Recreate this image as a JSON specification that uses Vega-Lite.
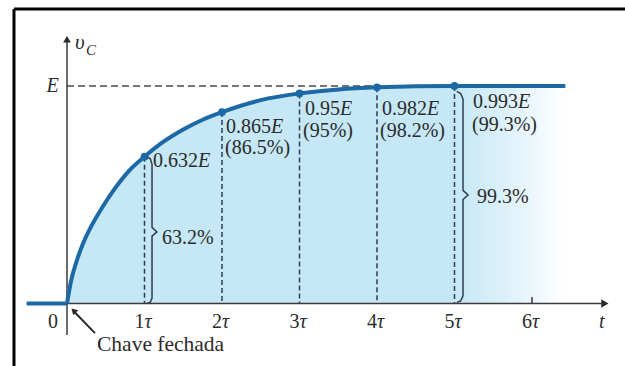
{
  "$schema": "https://vega.github.io/schema/vega-lite/v6.json",
  "width": 611,
  "height": 357,
  "autosize": {"type": "none"},
  "padding": {"left": 14, "top": 9, "right": 0, "bottom": 0},
  "background": "white",
  "config": {"view": {"stroke": null}},
  "encoding": {
    "x": {"field": "t", "type": "quantitative", "scale": {"domain": [-0.6839, 7.2], "nice": false, "zero": false}, "axis": null},
    "y": {"field": "v", "type": "quantitative", "scale": {"domain": [-0.2874, 1.354], "nice": false, "zero": false}, "axis": null}
  },
  "datasets": {
    "curve": [
      {"t": 0, "v": 0}, {"t": 0.05, "v": 0.1}, {"t": 0.12, "v": 0.19}, {"t": 0.206, "v": 0.275},
      {"t": 0.32, "v": 0.36}, {"t": 0.452, "v": 0.44}, {"t": 0.6, "v": 0.52}, {"t": 0.8, "v": 0.61},
      {"t": 1, "v": 0.675}, {"t": 1.25, "v": 0.745}, {"t": 1.5, "v": 0.8}, {"t": 1.75, "v": 0.845},
      {"t": 2, "v": 0.88}, {"t": 2.5, "v": 0.935}, {"t": 3, "v": 0.966}, {"t": 3.5, "v": 0.984},
      {"t": 4, "v": 0.994}, {"t": 4.5, "v": 0.999}, {"t": 5, "v": 1.0}, {"t": 6.43, "v": 1.0}
    ],
    "pts": [
      {"t": 1, "v": 0.675}, {"t": 2, "v": 0.88}, {"t": 3, "v": 0.966}, {"t": 4, "v": 0.994}, {"t": 5, "v": 1.0}
    ],
    "ticks": [
      {"n": "1", "tau": "τ", "t": 1, "v": -0.085},
      {"n": "2", "tau": "τ", "t": 2, "v": -0.085},
      {"n": "3", "tau": "τ", "t": 3, "v": -0.085},
      {"n": "4", "tau": "τ", "t": 4, "v": -0.085},
      {"n": "5", "tau": "τ", "t": 5, "v": -0.085},
      {"n": "6", "tau": "τ", "t": 6, "v": -0.085}
    ],
    "braces": [
      {"b": 1, "k": 1, "t": 1.03, "v": 0.675}, {"b": 1, "k": 2, "t": 1.075, "v": 0.665}, {"b": 1, "k": 3, "t": 1.097, "v": 0.64},
      {"b": 1, "k": 4, "t": 1.097, "v": 0.35}, {"b": 1, "k": 5, "t": 1.16, "v": 0.329}, {"b": 1, "k": 6, "t": 1.097, "v": 0.31},
      {"b": 1, "k": 7, "t": 1.097, "v": 0.025}, {"b": 1, "k": 8, "t": 1.075, "v": 0.006}, {"b": 1, "k": 9, "t": 1.03, "v": 0.0},
      {"b": 2, "k": 1, "t": 5.03, "v": 0.975}, {"b": 2, "k": 2, "t": 5.08, "v": 0.965}, {"b": 2, "k": 3, "t": 5.11, "v": 0.94},
      {"b": 2, "k": 4, "t": 5.11, "v": 0.52}, {"b": 2, "k": 5, "t": 5.175, "v": 0.499}, {"b": 2, "k": 6, "t": 5.11, "v": 0.478},
      {"b": 2, "k": 7, "t": 5.11, "v": 0.035}, {"b": 2, "k": 8, "t": 5.08, "v": 0.012}, {"b": 2, "k": 9, "t": 5.03, "v": 0.005}
    ]
  },
  "layer": [
    {
      "data": {"name": "curve"},
      "mark": {"type": "area", "interpolate": "monotone", "color": {"gradient": "linear", "x1": 0, "y1": 0, "x2": 1, "y2": 0, "stops": [{"offset": 0, "color": "#c5e7f6"}, {"offset": 0.78, "color": "#c5e7f6"}, {"offset": 0.9, "color": "#e2f3fb"}, {"offset": 1, "color": "#ffffff"}]}},
      "encoding": {"y2": {"datum": 0}}
    },
    {
      "data": {"name": "pts"},
      "mark": {"type": "rule", "color": "#2c3e50", "strokeWidth": 1.5, "strokeDash": [5, 3]},
      "encoding": {"y2": {"datum": 0}}
    },
    {
      "data": {"values": [{"t": 0, "t2": 4.3, "v": 1}]},
      "mark": {"type": "rule", "color": "#4a4a4a", "strokeWidth": 1.6, "strokeDash": [7, 4]},
      "encoding": {"x2": {"field": "t2"}}
    },
    {
      "data": {"values": [{"t": -0.684, "v": -0.2874, "v2": 1.354}]},
      "mark": {"type": "rule", "color": "#000000", "strokeWidth": 3},
      "encoding": {"y2": {"field": "v2"}}
    },
    {
      "data": {"values": [{"t": -0.684, "t2": 7.2, "v": 1.354}]},
      "mark": {"type": "rule", "color": "#000000", "strokeWidth": 3},
      "encoding": {"x2": {"field": "t2"}}
    },
    {
      "data": {"values": [{"t": -0.52, "t2": 6.9, "v": 0}]},
      "mark": {"type": "rule", "color": "#3a3a3a", "strokeWidth": 1.5},
      "encoding": {"x2": {"field": "t2"}}
    },
    {
      "data": {"values": [{"t": 0, "v": -0.145, "v2": 1.22}, {"t": 6, "v": 0, "v2": 0.03}]},
      "mark": {"type": "rule", "color": "#3a3a3a", "strokeWidth": 1.5},
      "encoding": {"y2": {"field": "v2"}}
    },
    {
      "data": {"values": [{"t": 6.94, "v": 0}]},
      "mark": {"type": "point", "shape": "triangle-right", "filled": true, "size": 70, "color": "#2a2a2a", "opacity": 1}
    },
    {
      "data": {"values": [{"t": 0, "v": 1.215}]},
      "mark": {"type": "point", "shape": "triangle-up", "filled": true, "size": 60, "color": "#2a2a2a", "opacity": 1}
    },
    {
      "data": {"values": [{"t": 0.361, "v": -0.136, "t2": 0.1, "v2": -0.04}]},
      "mark": {"type": "rule", "color": "#2a2a2a", "strokeWidth": 2},
      "encoding": {"x2": {"field": "t2"}, "y2": {"field": "v2"}}
    },
    {
      "data": {"values": [{"t": 0.085, "v": -0.033}]},
      "mark": {"type": "point", "shape": "triangle-up", "angle": -45, "filled": true, "size": 50, "color": "#2a2a2a", "opacity": 1}
    },
    {
      "data": {"values": [{"t": -0.52, "t2": 0, "v": 0}]},
      "mark": {"type": "rule", "color": "#1c69a6", "strokeWidth": 4},
      "encoding": {"x2": {"field": "t2"}}
    },
    {
      "data": {"name": "curve"},
      "mark": {"type": "line", "interpolate": "monotone", "color": "#1c69a6", "strokeWidth": 4}
    },
    {
      "data": {"name": "pts"},
      "mark": {"type": "point", "shape": "circle", "filled": true, "size": 60, "color": "#1c69a6", "opacity": 1}
    },
    {
      "data": {"name": "braces"},
      "mark": {"type": "line", "color": "#2c3e50", "strokeWidth": 1.5},
      "encoding": {"detail": {"field": "b"}, "order": {"field": "k"}}
    },
    {
      "data": {"values": [
        {"label": "0.632", "t": 1.11, "v": 0.657},
        {"label": "0.865", "t": 2.052, "v": 0.813},
        {"label": "0.95", "t": 3.071, "v": 0.895},
        {"label": "0.982", "t": 4.065, "v": 0.895},
        {"label": "0.993", "t": 5.239, "v": 0.928},
        {"label": "(86.5%)", "t": 2.04, "v": 0.713},
        {"label": "(95%)", "t": 3.045, "v": 0.794},
        {"label": "(98.2%)", "t": 4.039, "v": 0.794},
        {"label": "(99.3%)", "t": 5.226, "v": 0.819},
        {"label": "63.2%", "t": 1.226, "v": 0.301},
        {"label": "99.3%", "t": 5.29, "v": 0.49}
      ]},
      "mark": {"type": "text", "align": "left", "baseline": "middle", "font": "Liberation Serif", "fontSize": 20, "color": "#2b2b2b"},
      "encoding": {"text": {"field": "label"}}
    },
    {
      "data": {"values": [{"label": "Chave fechada", "t": 0.387, "v": -0.191}]},
      "mark": {"type": "text", "align": "left", "baseline": "middle", "font": "Liberation Serif", "fontSize": 21.5, "color": "#2b2b2b"},
      "encoding": {"text": {"field": "label"}}
    },
    {
      "data": {"values": [
        {"label": "E", "t": 1.69, "v": 0.657},
        {"label": "E", "t": 2.632, "v": 0.813},
        {"label": "E", "t": 3.523, "v": 0.895},
        {"label": "E", "t": 4.645, "v": 0.895},
        {"label": "E", "t": 5.819, "v": 0.928}
      ]},
      "mark": {"type": "text", "align": "left", "baseline": "middle", "font": "Liberation Serif", "fontStyle": "italic", "fontSize": 20, "color": "#2b2b2b"},
      "encoding": {"text": {"field": "label"}}
    },
    {
      "data": {"values": [{"label": "0", "t": -0.18, "v": -0.085}]},
      "mark": {"type": "text", "align": "center", "baseline": "middle", "font": "Liberation Serif", "fontSize": 20, "color": "#2b2b2b"},
      "encoding": {"text": {"field": "label"}}
    },
    {
      "data": {"name": "ticks"},
      "mark": {"type": "text", "align": "right", "baseline": "middle", "font": "Liberation Serif", "fontSize": 20, "color": "#2b2b2b"},
      "encoding": {"text": {"field": "n"}}
    },
    {
      "data": {"name": "ticks"},
      "mark": {"type": "text", "align": "left", "baseline": "middle", "font": "Liberation Serif", "fontStyle": "italic", "fontSize": 20, "color": "#2b2b2b"},
      "encoding": {"text": {"field": "tau"}}
    },
    {
      "data": {"values": [
        {"label": "t", "t": 6.9, "v": -0.085},
        {"label": "E", "t": -0.187, "v": 1.0}
      ]},
      "mark": {"type": "text", "align": "center", "baseline": "middle", "font": "Liberation Serif", "fontStyle": "italic", "fontSize": 20, "color": "#2b2b2b"},
      "encoding": {"text": {"field": "label"}}
    },
    {
      "data": {"values": [{"label": "υ", "t": 0.103, "v": 1.198}]},
      "mark": {"type": "text", "align": "left", "baseline": "middle", "font": "Liberation Serif", "fontStyle": "italic", "fontSize": 21, "color": "#2b2b2b"},
      "encoding": {"text": {"field": "label"}}
    },
    {
      "data": {"values": [{"label": "C", "t": 0.245, "v": 1.166}]},
      "mark": {"type": "text", "align": "left", "baseline": "middle", "font": "Liberation Serif", "fontStyle": "italic", "fontSize": 15, "color": "#2b2b2b"},
      "encoding": {"text": {"field": "label"}}
    }
  ]
}
